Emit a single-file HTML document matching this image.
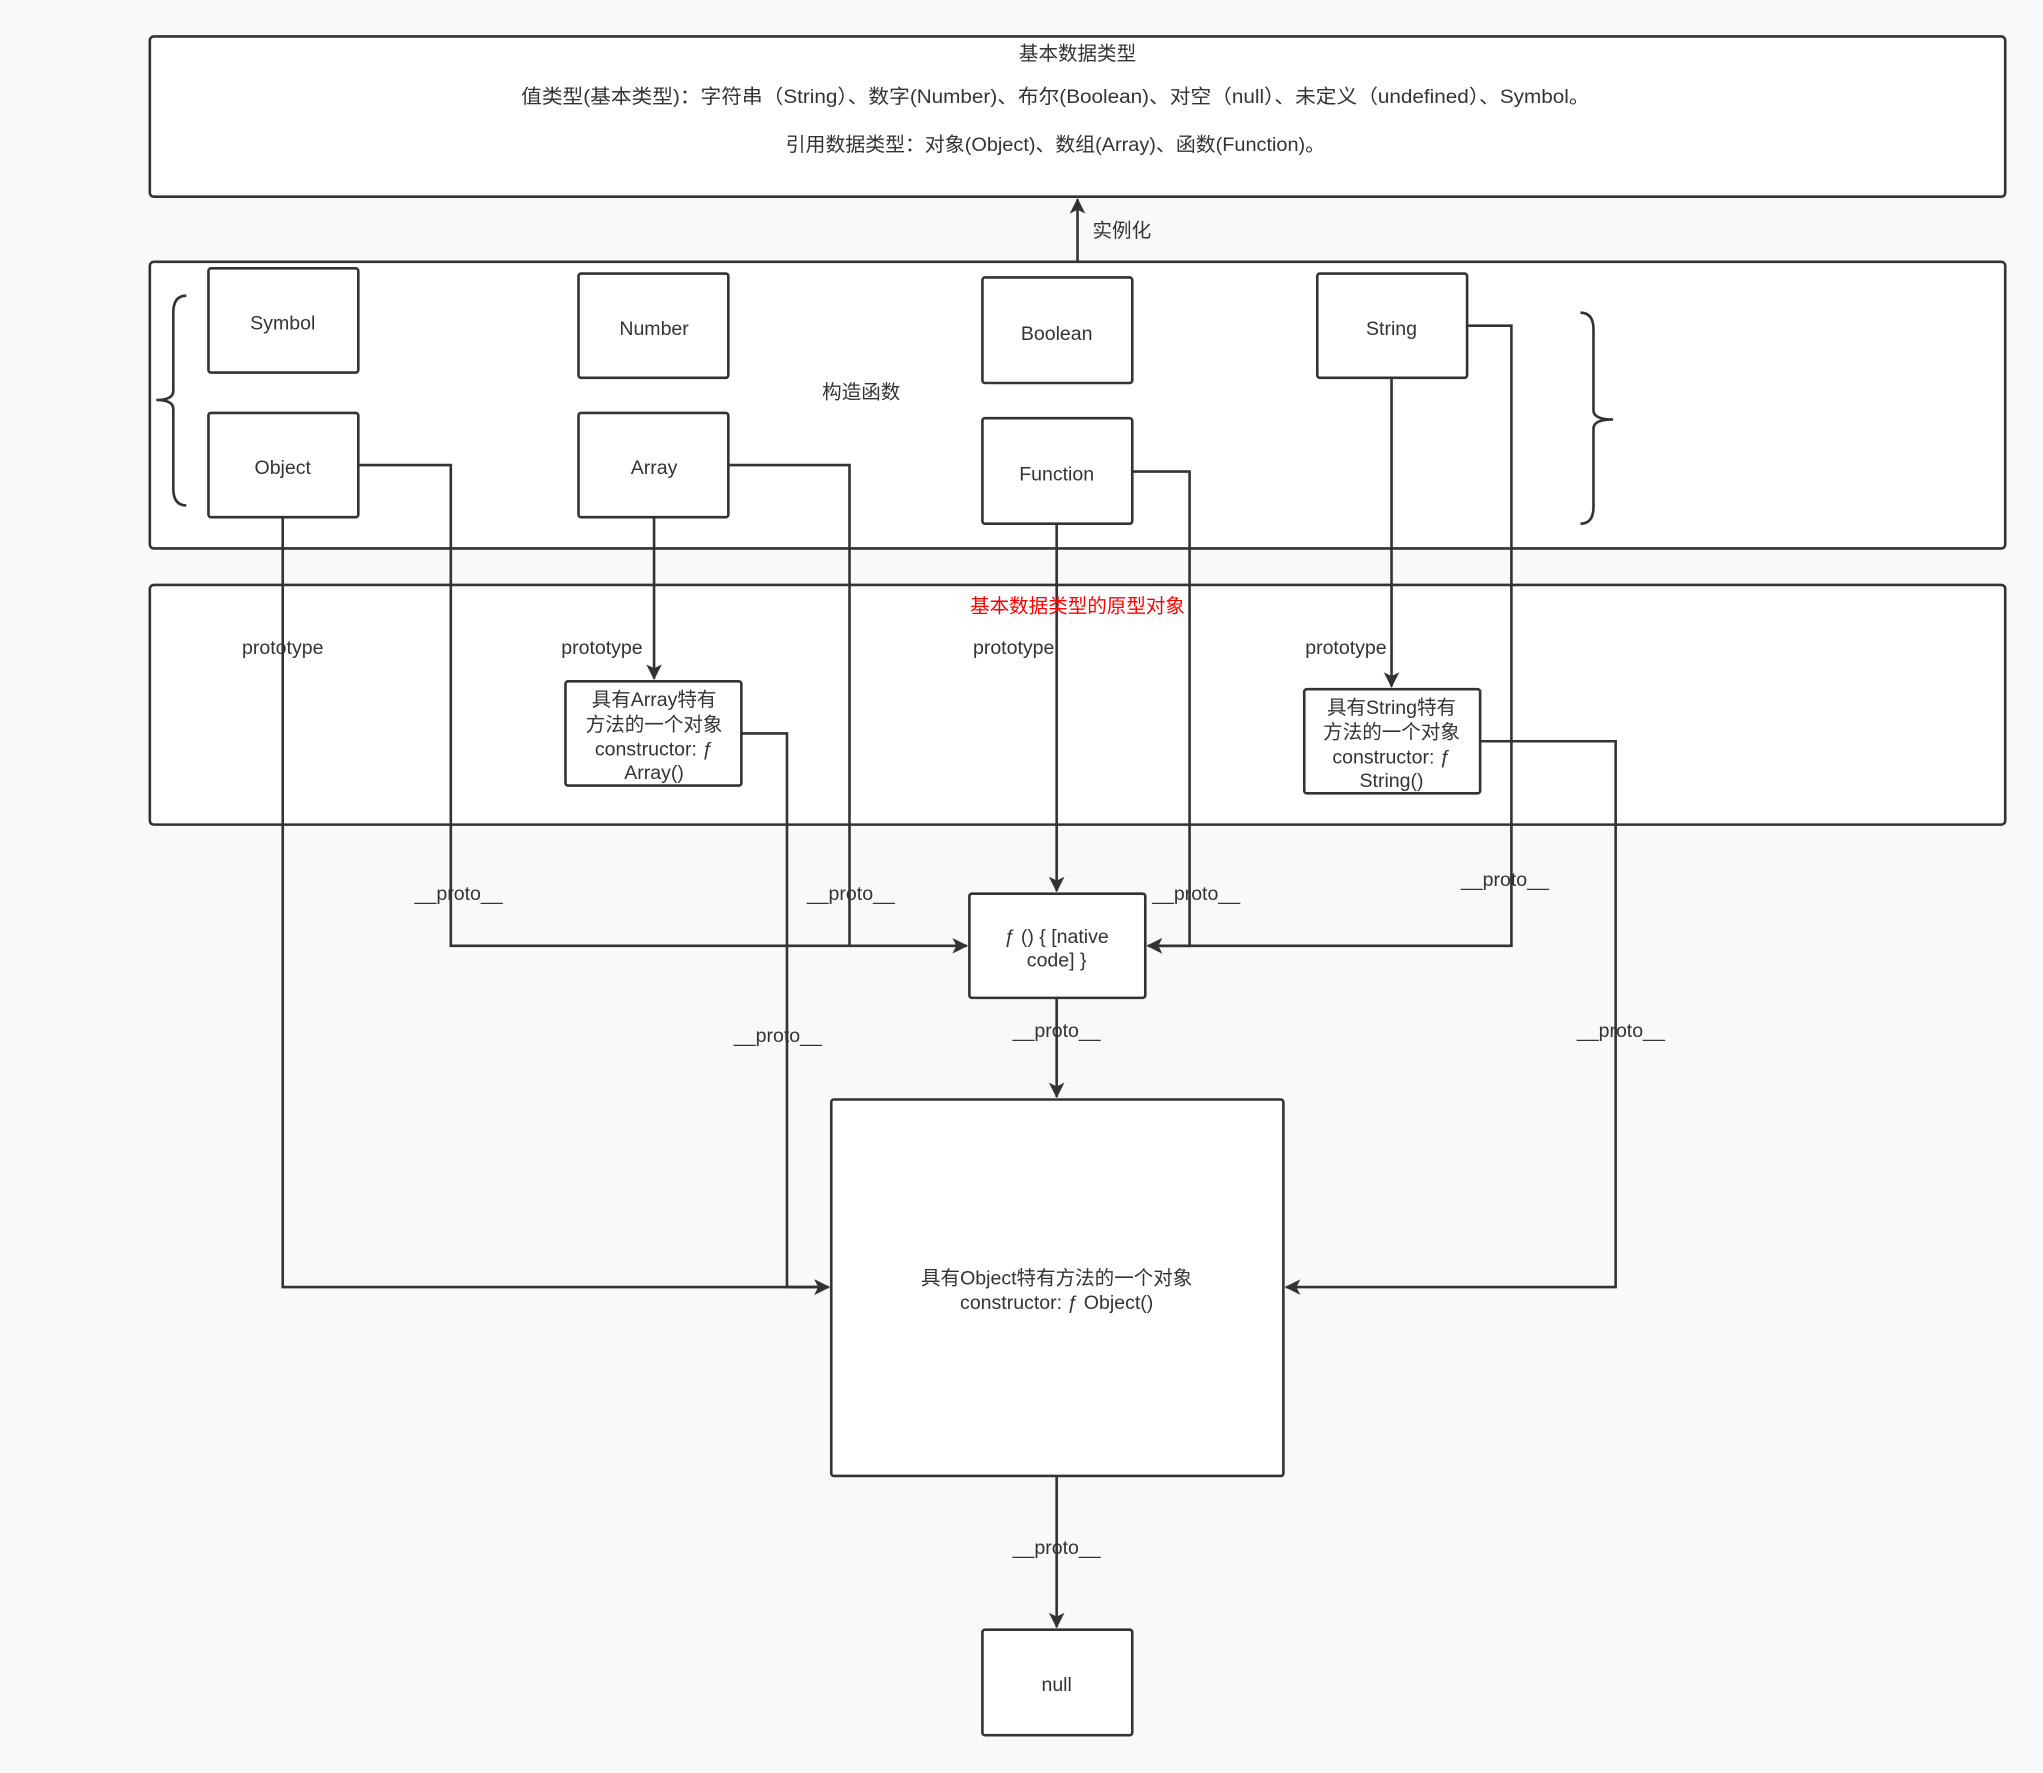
<!DOCTYPE html>
<html><head><meta charset="utf-8"><style>
html,body{margin:0;padding:0;background:#f9f9f9;}
svg{display:block;}
text{font-family:"Liberation Sans","Noto Sans CJK SC",sans-serif;font-size:15px;fill:#333;}
</style></head><body>
<svg width="2043" height="1773" viewBox="0 0 1568 1361" preserveAspectRatio="none" xmlns="http://www.w3.org/2000/svg">
<defs><marker id="a" markerWidth="12" markerHeight="12" refX="11" refY="6" orient="auto" markerUnits="userSpaceOnUse"><path d="M0,0 L12,6 L0,12 L3,6 Z" fill="#333"/></marker></defs>
<rect width="1568" height="1361" fill="#f9f9f9"/>
<g fill="#fff" stroke="#333" stroke-width="2">
<rect x="115" y="28" width="1424" height="123" rx="3"/>
<rect x="115" y="201" width="1424" height="220" rx="3"/>
<rect x="115" y="449" width="1424" height="184" rx="3"/>
<rect x="160" y="206" width="115" height="80" rx="2"/>
<rect x="444" y="210" width="115" height="80" rx="2"/>
<rect x="754" y="213" width="115" height="81" rx="2"/>
<rect x="1011" y="210" width="115" height="80" rx="2"/>
<rect x="160" y="317" width="115" height="80" rx="2"/>
<rect x="444" y="317" width="115" height="80" rx="2"/>
<rect x="754" y="321" width="115" height="81" rx="2"/>
<rect x="434" y="523" width="135" height="80" rx="2"/>
<rect x="1001" y="529" width="135" height="80" rx="2"/>
<rect x="744" y="686" width="135" height="80" rx="2"/>
<rect x="638" y="844" width="347" height="289" rx="2"/>
<rect x="754" y="1251" width="115" height="81" rx="2"/>
</g>
<g fill="none" stroke="#333" stroke-width="2">
<path d="M143,227 Q133,227 133,240 L133,300 Q133,307 120,307 Q133,307 133,314 L133,375 Q133,388 143,388"/>
<path d="M1213,240 Q1223,240 1223,253 L1223,315 Q1223,322 1238,322 Q1223,322 1223,329 L1223,389 Q1223,402 1213,402"/>
<path d="M827,201 L827,153" marker-end="url(#a)"/>
<path d="M217,397 L217,988 L636,988" marker-end="url(#a)"/>
<path d="M275,357 L346,357 L346,726 L742,726" marker-end="url(#a)"/>
<path d="M502,397 L502,521" marker-end="url(#a)"/>
<path d="M559,357 L652,357 L652,726"/>
<path d="M569,563 L604,563 L604,988 L636,988" marker-end="url(#a)"/>
<path d="M811,402 L811,684" marker-end="url(#a)"/>
<path d="M869,362 L913,362 L913,726 L881,726" marker-end="url(#a)"/>
<path d="M1068,290 L1068,527" marker-end="url(#a)"/>
<path d="M1126,250 L1160,250 L1160,726 L881,726" marker-end="url(#a)"/>
<path d="M1136,569 L1240,569 L1240,988 L987,988" marker-end="url(#a)"/>
<path d="M811,766 L811,842" marker-end="url(#a)"/>
<path d="M811,1133 L811,1249" marker-end="url(#a)"/>
</g>
<g text-anchor="middle">
<text x="827" y="46">基本数据类型</text>
<text x="810" y="79" textLength="820" lengthAdjust="spacingAndGlyphs">值类型(基本类型)：字符串（String）、数字(Number)、布尔(Boolean)、对空（null）、未定义（undefined）、Symbol。</text>
<text x="810" y="116" textLength="414" lengthAdjust="spacingAndGlyphs">引用数据类型：对象(Object)、数组(Array)、函数(Function)。</text>
<text x="861" y="182">实例化</text>
<text x="217" y="253">Symbol</text>
<text x="502" y="257">Number</text>
<text x="811" y="261">Boolean</text>
<text x="1068" y="257">String</text>
<text x="217" y="364">Object</text>
<text x="502" y="364">Array</text>
<text x="811" y="369">Function</text>
<text x="661" y="306">构造函数</text>
<text x="827" y="470" style="fill:#f00">基本数据类型的原型对象</text>
<text x="217" y="502">prototype</text>
<text x="462" y="502">prototype</text>
<text x="778" y="502">prototype</text>
<text x="1033" y="502">prototype</text>
<text x="502" y="542">具有Array特有</text>
<text x="502" y="561">方法的一个对象</text>
<text x="502" y="580">constructor: ƒ</text>
<text x="502" y="598">Array()</text>
<text x="1068" y="548">具有String特有</text>
<text x="1068" y="567">方法的一个对象</text>
<text x="1068" y="586">constructor: ƒ</text>
<text x="1068" y="604">String()</text>
<text x="811" y="724">ƒ () { [native</text>
<text x="811" y="742">code] }</text>
<text x="811" y="986">具有Object特有方法的一个对象</text>
<text x="811" y="1005">constructor: ƒ Object()</text>
<text x="811" y="1298">null</text>
<text x="352" y="691">__proto__</text>
<text x="653" y="691">__proto__</text>
<text x="918" y="691">__proto__</text>
<text x="1155" y="680">__proto__</text>
<text x="597" y="800">__proto__</text>
<text x="811" y="796">__proto__</text>
<text x="1244" y="796">__proto__</text>
<text x="811" y="1193">__proto__</text>
</g>
</svg>
</body></html>
